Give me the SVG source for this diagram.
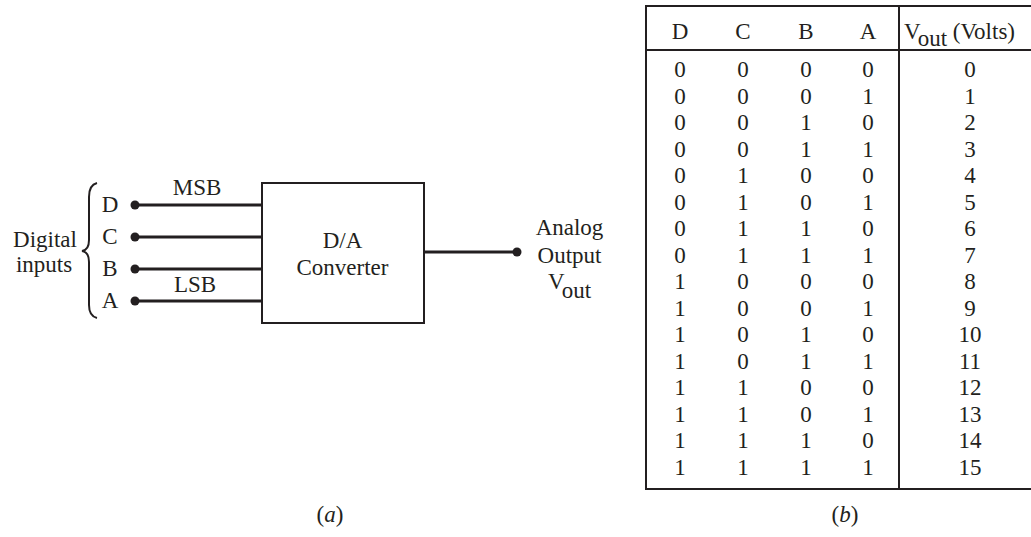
<svg xmlns="http://www.w3.org/2000/svg" width="1031" height="537" viewBox="0 0 1031 537">
<style>
text{font-family:"Liberation Serif","Times New Roman",serif;fill:#231f20;font-size:23px}
.m{text-anchor:middle}
.w{stroke:#231f20;stroke-width:3;fill:none}
.b{stroke:#231f20;stroke-width:2;fill:none}
.dot{fill:#231f20}
</style>
<rect width="1031" height="537" fill="#fff"/>
<g id="inputs-label">
<text class="m" x="45" y="247">Digital</text>
<text class="m" x="44" y="272">inputs</text>
<path class="b" stroke-width="1.5" d="M97,183 Q89,185 89,197 L89,240 Q89,250 82,251 Q89,252 89,262 L89,305 Q89,316 97,318"/>
</g>
<g id="input-D"><text class="m" x="110" y="212">D</text><circle class="dot" cx="135" cy="205" r="4.5"/></g>
<g id="input-C"><text class="m" x="110" y="244">C</text><circle class="dot" cx="135" cy="237" r="4.5"/></g>
<g id="input-B"><text class="m" x="110" y="276">B</text><circle class="dot" cx="135" cy="269" r="4.5"/></g>
<g id="input-A"><text class="m" x="110" y="308">A</text><circle class="dot" cx="135" cy="301" r="4.5"/></g>
<g id="converter">
<rect class="b" x="262" y="183" width="162" height="140"/>
<text class="m" x="342.5" y="248">D/A</text>
<text class="m" x="342.5" y="275">Converter</text>
</g>
<g id="output">
<circle class="dot" cx="517" cy="252" r="4.5"/>
<text class="m" x="569.5" y="235">Analog</text>
<text class="m" x="569.5" y="263">Output</text>
<text class="m" x="569.5" y="289">V<tspan dy="9">out</tspan></text>
</g>
<g id="connectors">
<line class="w" x1="135" y1="205" x2="262" y2="205"/>
<line class="w" x1="135" y1="237" x2="262" y2="237"/>
<line class="w" x1="135" y1="269" x2="262" y2="269"/>
<line class="w" x1="135" y1="301" x2="262" y2="301"/>
<line class="w" x1="424" y1="252" x2="517" y2="252"/>
<text class="m" x="197" y="195">MSB</text>
<text class="m" x="195" y="292">LSB</text>
</g>
<text class="m" x="330" y="522" font-size="22"><tspan>(</tspan><tspan font-style="italic">a</tspan><tspan>)</tspan></text>
<g id="table">
<path class="b" d="M1031,6 H646 V489 H1031 M646,50 H1031 M899,6 V489"/>
<text class="m" x="680" y="38.5">D</text>
<text class="m" x="743" y="38.5">C</text>
<text class="m" x="806" y="38.5">B</text>
<text class="m" x="868" y="38.5">A</text>
<text x="904" y="38.5" font-size="24">V<tspan dy="7">out</tspan><tspan dy="-7"> (Volts)</tspan></text>
<g class="m">
<text x="680" y="77">0</text><text x="743" y="77">0</text><text x="806" y="77">0</text><text x="868" y="77">0</text><text x="970" y="77">0</text>
<text x="680" y="103.5">0</text><text x="743" y="103.5">0</text><text x="806" y="103.5">0</text><text x="868" y="103.5">1</text><text x="970" y="103.5">1</text>
<text x="680" y="130">0</text><text x="743" y="130">0</text><text x="806" y="130">1</text><text x="868" y="130">0</text><text x="970" y="130">2</text>
<text x="680" y="156.5">0</text><text x="743" y="156.5">0</text><text x="806" y="156.5">1</text><text x="868" y="156.5">1</text><text x="970" y="156.5">3</text>
<text x="680" y="183">0</text><text x="743" y="183">1</text><text x="806" y="183">0</text><text x="868" y="183">0</text><text x="970" y="183">4</text>
<text x="680" y="209.5">0</text><text x="743" y="209.5">1</text><text x="806" y="209.5">0</text><text x="868" y="209.5">1</text><text x="970" y="209.5">5</text>
<text x="680" y="236">0</text><text x="743" y="236">1</text><text x="806" y="236">1</text><text x="868" y="236">0</text><text x="970" y="236">6</text>
<text x="680" y="262.5">0</text><text x="743" y="262.5">1</text><text x="806" y="262.5">1</text><text x="868" y="262.5">1</text><text x="970" y="262.5">7</text>
<text x="680" y="289">1</text><text x="743" y="289">0</text><text x="806" y="289">0</text><text x="868" y="289">0</text><text x="970" y="289">8</text>
<text x="680" y="315.5">1</text><text x="743" y="315.5">0</text><text x="806" y="315.5">0</text><text x="868" y="315.5">1</text><text x="970" y="315.5">9</text>
<text x="680" y="342">1</text><text x="743" y="342">0</text><text x="806" y="342">1</text><text x="868" y="342">0</text><text x="970" y="342">10</text>
<text x="680" y="368.5">1</text><text x="743" y="368.5">0</text><text x="806" y="368.5">1</text><text x="868" y="368.5">1</text><text x="970" y="368.5">11</text>
<text x="680" y="395">1</text><text x="743" y="395">1</text><text x="806" y="395">0</text><text x="868" y="395">0</text><text x="970" y="395">12</text>
<text x="680" y="421.5">1</text><text x="743" y="421.5">1</text><text x="806" y="421.5">0</text><text x="868" y="421.5">1</text><text x="970" y="421.5">13</text>
<text x="680" y="448">1</text><text x="743" y="448">1</text><text x="806" y="448">1</text><text x="868" y="448">0</text><text x="970" y="448">14</text>
<text x="680" y="474.5">1</text><text x="743" y="474.5">1</text><text x="806" y="474.5">1</text><text x="868" y="474.5">1</text><text x="970" y="474.5">15</text>
</g>
</g>
<text class="m" x="845" y="522" font-size="22"><tspan>(</tspan><tspan font-style="italic">b</tspan><tspan>)</tspan></text>
</svg>
